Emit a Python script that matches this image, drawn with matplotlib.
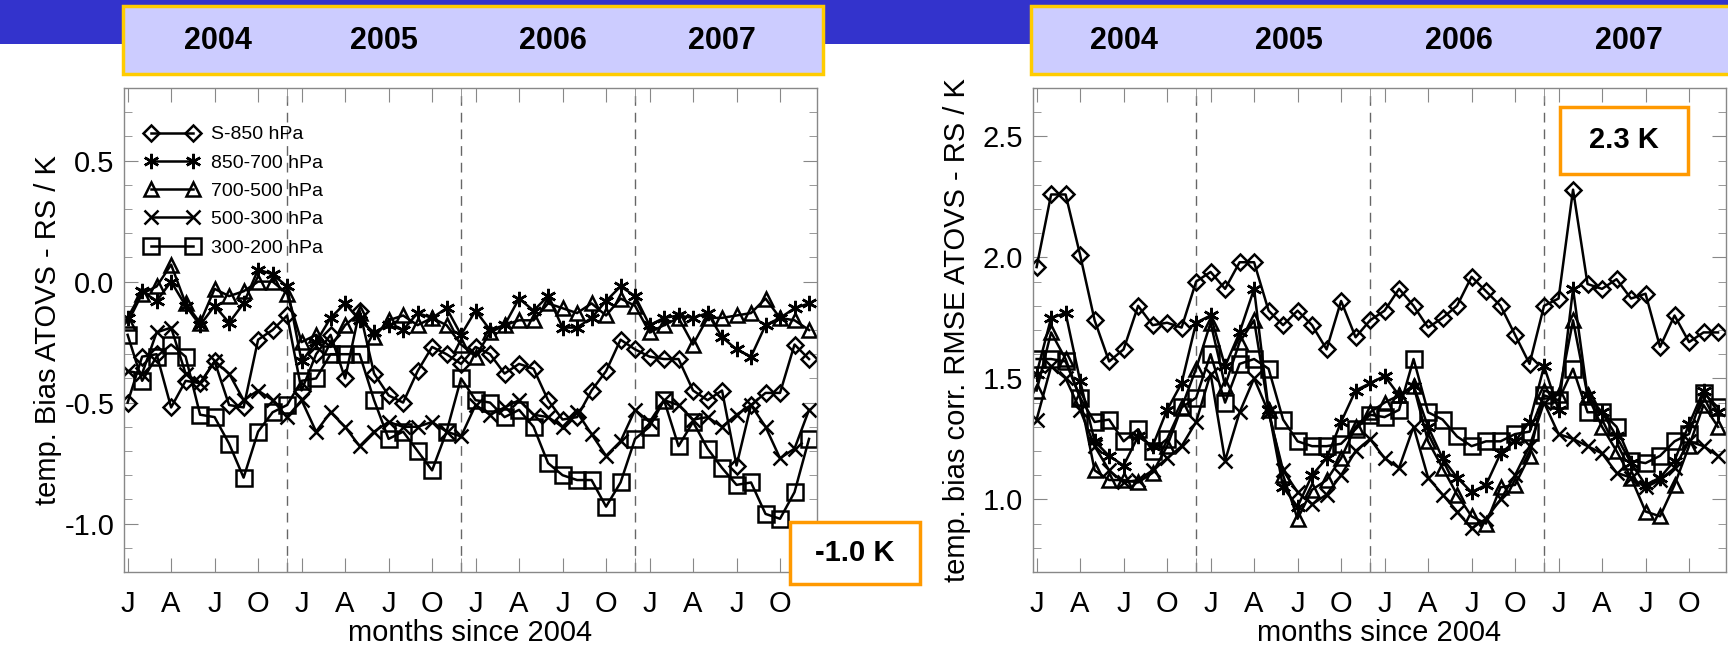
import matplotlib
matplotlib.use('Agg')
import matplotlib.pyplot as plt
import matplotlib.patches as patches
from matplotlib.ticker import MultipleLocator
import numpy as np

# months since Jan 2004 (0..47)
months = np.arange(48)
month_labels = ['J', 'A', 'J', 'O'] * 4
years = ['2004', '2005', '2006', '2007']
levels = ['S-850 hPa', '850-700 hPa', '700-500 hPa', '500-300 hPa', '300-200 hPa']

# left panel: bias ATOVS - RS / K
bias_s850 = [-0.50, -0.31, -0.30, -0.52, -0.41, -0.42, -0.33, -0.51, -0.52, -0.24, -0.20, -0.14,
             -0.45, -0.30, -0.22, -0.40, -0.12, -0.38, -0.47, -0.50, -0.37, -0.27, -0.30, -0.34,
             -0.27, -0.30, -0.38, -0.34, -0.36, -0.49, -0.57, -0.56, -0.45, -0.37, -0.24, -0.28,
             -0.31, -0.32, -0.32, -0.45, -0.49, -0.45, -0.76, -0.51, -0.46, -0.46, -0.26, -0.32]
bias_850_700 = [-0.15, -0.04, -0.08, 0.00, -0.10, -0.18, -0.10, -0.17, -0.09, 0.05, 0.03, -0.02,
                -0.33, -0.25, -0.15, -0.09, -0.16, -0.21, -0.18, -0.20, -0.13, -0.15, -0.11, -0.22,
                -0.12, -0.20, -0.18, -0.07, -0.12, -0.06, -0.19, -0.19, -0.15, -0.08, -0.02, -0.06,
                -0.18, -0.15, -0.14, -0.15, -0.13, -0.23, -0.28, -0.31, -0.18, -0.15, -0.11, -0.09]
bias_700_500 = [-0.17, -0.05, -0.02, 0.07, -0.09, -0.17, -0.03, -0.06, -0.04, 0.00, 0.00, -0.05,
                -0.25, -0.22, -0.27, -0.18, -0.13, -0.23, -0.16, -0.14, -0.18, -0.15, -0.18, -0.26,
                -0.31, -0.21, -0.18, -0.16, -0.16, -0.09, -0.11, -0.13, -0.09, -0.14, -0.07, -0.10,
                -0.21, -0.18, -0.15, -0.26, -0.15, -0.15, -0.14, -0.13, -0.07, -0.15, -0.16, -0.20]
bias_500_300 = [-0.37, -0.38, -0.21, -0.19, -0.38, -0.42, -0.33, -0.38, -0.49, -0.45, -0.49, -0.56,
                -0.49, -0.62, -0.54, -0.60, -0.68, -0.62, -0.58, -0.60, -0.60, -0.58, -0.62, -0.64,
                -0.51, -0.55, -0.52, -0.49, -0.55, -0.56, -0.60, -0.54, -0.63, -0.72, -0.66, -0.53,
                -0.58, -0.49, -0.51, -0.57, -0.56, -0.60, -0.55, -0.51, -0.60, -0.73, -0.69, -0.53]
bias_300_200 = [-0.22, -0.41, -0.31, -0.26, -0.31, -0.55, -0.56, -0.67, -0.81, -0.62, -0.54, -0.51,
                -0.41, -0.40, -0.30, -0.30, -0.30, -0.49, -0.65, -0.62, -0.70, -0.78, -0.62, -0.40,
                -0.49, -0.50, -0.56, -0.53, -0.60, -0.75, -0.80, -0.82, -0.82, -0.93, -0.83, -0.65,
                -0.60, -0.49, -0.68, -0.58, -0.69, -0.77, -0.84, -0.83, -0.96, -0.98, -0.87, -0.65]

# right panel: bias corrected RMSE ATOVS - RS / K
rmse_s850 = [1.96, 2.26, 2.26, 2.01, 1.74, 1.57, 1.62, 1.80, 1.72, 1.73, 1.71, 1.90,
             1.94, 1.87, 1.98, 1.98, 1.78, 1.72, 1.78, 1.72, 1.62, 1.82, 1.67, 1.74,
             1.78, 1.87, 1.80, 1.71, 1.75, 1.80, 1.92, 1.86, 1.80, 1.68, 1.56, 1.80,
             1.83, 2.28, 1.89, 1.87, 1.91, 1.83, 1.85, 1.63, 1.76, 1.65, 1.69, 1.69]
rmse_850_700 = [1.52, 1.75, 1.77, 1.49, 1.24, 1.18, 1.14, 1.26, 1.22, 1.37, 1.48, 1.73,
                1.76, 1.55, 1.69, 1.87, 1.37, 1.05, 0.97, 1.10, 1.17, 1.32, 1.45, 1.48,
                1.51, 1.43, 1.47, 1.30, 1.17, 1.09, 1.03, 1.06, 1.19, 1.24, 1.32, 1.55,
                1.37, 1.87, 1.43, 1.36, 1.26, 1.15, 1.06, 1.09, 1.16, 1.31, 1.45, 1.36]
rmse_700_500 = [1.45, 1.69, 1.58, 1.42, 1.12, 1.08, 1.08, 1.07, 1.11, 1.22, 1.38, 1.54,
                1.73, 1.47, 1.65, 1.74, 1.37, 1.10, 0.92, 1.04, 1.08, 1.17, 1.30, 1.36,
                1.40, 1.43, 1.47, 1.24, 1.13, 1.02, 0.93, 0.90, 1.05, 1.06, 1.18, 1.45,
                1.43, 1.74, 1.43, 1.30, 1.20, 1.09, 0.95, 0.93, 1.06, 1.22, 1.39, 1.30]
rmse_500_300 = [1.33, 1.55, 1.50, 1.37, 1.22, 1.12, 1.07, 1.08, 1.12, 1.17, 1.22, 1.32,
                1.52, 1.16, 1.36, 1.50, 1.36, 1.12, 1.03, 0.98, 1.02, 1.10, 1.20, 1.25,
                1.17, 1.13, 1.30, 1.09, 1.02, 0.95, 0.88, 0.92, 1.00, 1.10, 1.22, 1.40,
                1.27, 1.25, 1.22, 1.19, 1.11, 1.09, 1.05, 1.08, 1.13, 1.24, 1.22, 1.18]
rmse_300_200 = [1.58, 1.58, 1.57, 1.42, 1.32, 1.33, 1.24, 1.29, 1.20, 1.25, 1.38, 1.42,
                1.60, 1.40, 1.56, 1.58, 1.54, 1.33, 1.24, 1.22, 1.22, 1.23, 1.29, 1.35,
                1.34, 1.37, 1.58, 1.36, 1.33, 1.26, 1.22, 1.24, 1.24, 1.27, 1.28, 1.43,
                1.41, 1.54, 1.36, 1.36, 1.30, 1.16, 1.15, 1.18, 1.24, 1.27, 1.44, 1.38]

plt.rcParams['font.family'] = ['Liberation Sans', 'DejaVu Sans']
plt.rcParams['axes.unicode_minus'] = False

W, H = 1728, 650
markers = ['D', (6, 2, 0), '^', 'x', 's']
msizes = [8, 11, 10.5, 10, 11]

fig = plt.figure(figsize=(W / 100, H / 100), dpi=100)


def fx(px):
    return px / W


def fy(py):
    return 1 - py / H


# blue header bar with the two year banners
fig.patches.append(patches.Rectangle((0, fy(44)), 1, 44 / H, transform=fig.transFigure,
                                     facecolor='#3333cc', edgecolor='none', zorder=0))
for x0, x1, centers in [(123, 823, [218, 384, 553, 722]), (1031, 1740, [1124, 1289, 1459, 1629])]:
    fig.patches.append(patches.Rectangle((fx(x0), fy(74)), fx(x1 - x0), 68 / H,
                                         transform=fig.transFigure, facecolor='#ccccff',
                                         edgecolor='#ffcc00', linewidth=2.5, zorder=1))
    for cx, yr in zip(centers, years):
        fig.text(fx(cx), fy(41), yr, ha='center', va='center', fontsize=22,
                 fontweight='bold', zorder=2)


def draw_panel(ax, series, ylim, yticks, ylabel, legend=False):
    for vals, name, m, ms in zip(series, levels, markers, msizes):
        ax.plot(months, vals, color='black', lw=1.8, marker=m, ms=ms, mfc='none',
                mec='black', mew=1.8, label=name)
    for x in [11, 23, 35]:
        ax.axvline(x, color='#666666', ls=(0, (7, 5)), lw=1, zorder=0)
    ax.set_xlim(-0.25, 47.55)
    ax.set_ylim(*ylim)
    ax.set_xticks(months[::3], month_labels)
    ax.set_xticks([11, 23, 35], minor=True)
    ax.set_yticks(yticks)
    ax.yaxis.set_minor_locator(MultipleLocator(0.1))
    ax.tick_params(which='both', direction='in', top=True, right=True,
                   colors='#888888', labelcolor='black', labelsize=21)
    ax.tick_params(which='major', length=10)
    ax.tick_params(axis='y', which='minor', length=6)
    ax.tick_params(axis='x', which='minor', length=10)
    ax.tick_params(axis='x', pad=13)
    ax.tick_params(axis='y', pad=7)
    for s in ax.spines.values():
        s.set_color('#888888')
        s.set_linewidth(1)
    ax.set_xlabel('months since 2004', fontsize=21, labelpad=1)
    ax.set_ylabel(ylabel, fontsize=21, va='center')
    ax.yaxis.set_label_coords(-0.11, 0.5)
    if legend:
        ax.legend(loc='upper left', bbox_to_anchor=(0.03, 0.922), frameon=False,
                  fontsize=14, numpoints=2, handlelength=2.8, handletextpad=0.6,
                  labelspacing=0.55, borderpad=0, borderaxespad=0)


ax1 = fig.add_axes([fx(124), 78 / H, fx(693), 484 / H])
draw_panel(ax1, [bias_s850, bias_850_700, bias_700_500, bias_500_300, bias_300_200],
           (-1.2, 0.8), [-1.0, -0.5, 0.0, 0.5], 'temp. Bias ATOVS - RS / K', legend=True)

ax2 = fig.add_axes([fx(1033), 78 / H, fx(693), 484 / H])
draw_panel(ax2, [rmse_s850, rmse_850_700, rmse_700_500, rmse_500_300, rmse_300_200],
           (0.7, 2.7), [1.0, 1.5, 2.0, 2.5], 'temp. bias corr. RMSE ATOVS - RS / K')

# highlighted extreme values
for x0, y0, x1, y1, txt in [(790, 522, 920, 584, '-1.0 K'), (1560, 107, 1688, 174, '2.3 K')]:
    fig.patches.append(patches.Rectangle((fx(x0), fy(y1)), fx(x1 - x0), (y1 - y0) / H,
                                         transform=fig.transFigure, facecolor='white',
                                         edgecolor='#ff9900', linewidth=2.5, zorder=5))
    fig.text(fx((x0 + x1) / 2), fy((y0 + y1) / 2), txt, ha='center', va='center',
             fontsize=21, fontweight='bold', zorder=6)

plt.savefig('out.png', dpi=100)
